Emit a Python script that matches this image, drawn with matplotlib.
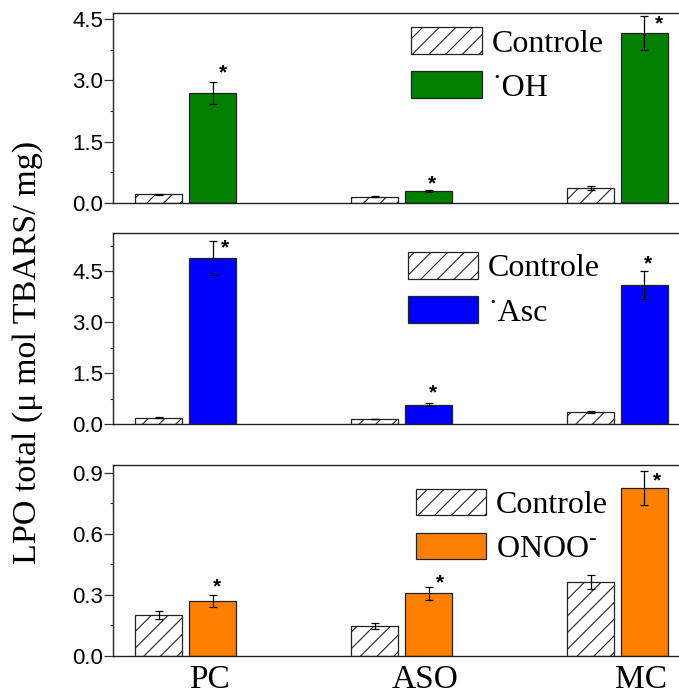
import matplotlib
matplotlib.use("Agg")
import matplotlib.pyplot as plt
from matplotlib.ticker import MultipleLocator, FormatStrFormatter

plt.rcParams["mathtext.fontset"] = "custom"
plt.rcParams["mathtext.rm"] = "Liberation Serif"
plt.rcParams["hatch.linewidth"] = 0.8

groups = ["PC", "ASO", "MC"]

controle_oh = [0.21, 0.155, 0.36]
controle_oh_err = [0.02, 0.01, 0.05]
oh = [2.70, 0.30, 4.16]
oh_err = [0.27, 0.03, 0.42]

controle_asc = [0.19, 0.155, 0.37]
controle_asc_err = [0.02, 0.01, 0.03]
asc = [4.89, 0.57, 4.10]
asc_err = [0.49, 0.04, 0.42]

controle_onoo = [0.20, 0.148, 0.362]
controle_onoo_err = [0.02, 0.015, 0.035]
onoo = [0.27, 0.307, 0.826]
onoo_err = [0.03, 0.033, 0.082]

fig = plt.figure(figsize=(6.79, 7.0), dpi=100)

panels = [
    dict(rect=[0.167, 0.710, 0.833, 0.2714], ctrl=controle_oh, ctrl_err=controle_oh_err,
         trt=oh, trt_err=oh_err, color="#007F00", label="˙OH",
         ylim=4.65, major=1.5, minor=0.75,
         star_off=[(10, 9), (3, 6), (14, -8)], leg_anchor=(0.527, 0.925)),
    dict(rect=[0.167, 0.394, 0.833, 0.273], ctrl=controle_asc, ctrl_err=controle_asc_err,
         trt=asc, trt_err=asc_err, color="#0000FF", label="˙Asc",
         ylim=5.62, major=1.5, minor=0.75,
         star_off=[(12, -7), (4, 11), (3, 7)], leg_anchor=(0.52, 0.90)),
    dict(rect=[0.167, 0.063, 0.833, 0.273], ctrl=controle_onoo, ctrl_err=controle_onoo_err,
         trt=onoo, trt_err=onoo_err, color="#FF8000", label=r"ONOO$^{\text{-}}$",
         ylim=0.94, major=0.3, minor=0.15,
         star_off=[(4, 8), (11, 4), (12, -10)], leg_anchor=(0.535, 0.875)),
]

width = 0.218
offset = 0.125
xs = list(range(len(groups)))

for i, p in enumerate(panels):
    ax = fig.add_axes(p["rect"])
    xc = [x - offset for x in xs]
    xt = [x + offset for x in xs]
    ax.bar(xc, p["ctrl"], width, color="white", edgecolor="#222222", hatch="//",
           linewidth=0.9, label="Controle", zorder=2)
    ax.bar(xt, p["trt"], width, color=p["color"], edgecolor="#222222",
           linewidth=0.9, label=p["label"], zorder=2)
    ax.errorbar(xc, p["ctrl"], yerr=p["ctrl_err"], fmt="none", ecolor="black",
                elinewidth=0.9, capsize=3, capthick=0.9, zorder=3)
    ax.errorbar(xt, p["trt"], yerr=p["trt_err"], fmt="none", ecolor="black",
                elinewidth=0.9, capsize=3, capthick=0.9, zorder=3)
    for x, v, e, (dx, dy) in zip(xt, p["trt"], p["trt_err"], p["star_off"]):
        ax.annotate("*", xy=(x, v + e), xytext=(dx, dy), textcoords="offset pixels",
                    ha="center", va="center", fontsize=15, fontweight="bold",
                    family="Liberation Sans", zorder=4)

    ax.set_xlim(-0.336, 2.285)
    ax.set_ylim(0, p["ylim"])
    ax.yaxis.set_major_locator(MultipleLocator(p["major"]))
    ax.yaxis.set_minor_locator(MultipleLocator(p["minor"]))
    ax.yaxis.set_major_formatter(FormatStrFormatter("%.1f"))
    ax.tick_params(axis="y", which="major", length=6.5, width=0.9, direction="out",
                   labelsize=16, pad=1, color="#333333")
    ax.tick_params(axis="y", which="minor", length=2.5, width=0.8, direction="out",
                   color="#333333")
    for lab in ax.get_yticklabels():
        lab.set_family("Liberation Sans")
    ax.spines["right"].set_visible(False)
    for s in ["left", "bottom", "top"]:
        ax.spines[s].set_linewidth(1.0)
        ax.spines[s].set_color("#222222")

    if i == 2:
        ax.set_xticks([x + 0.11 for x in xs])
        ax.set_xticklabels(groups, family="Liberation Serif", fontsize=24)
        ax.tick_params(axis="x", length=0, pad=6)
    else:
        ax.set_xticks([])

    leg = ax.legend(loc="upper left", bbox_to_anchor=p["leg_anchor"], frameon=False,
                    prop={"family": "Liberation Serif", "size": 23},
                    handlelength=2.2, handleheight=0.9, handletextpad=0.3,
                    labelspacing=0.4, borderaxespad=0, borderpad=0)

fig.text(0.041, 0.497, "LPO total (μ mol TBARS/ mg)", rotation=90,
         ha="center", va="center", family="Liberation Serif", fontsize=24.5)

fig.savefig("out.png", dpi=100)
